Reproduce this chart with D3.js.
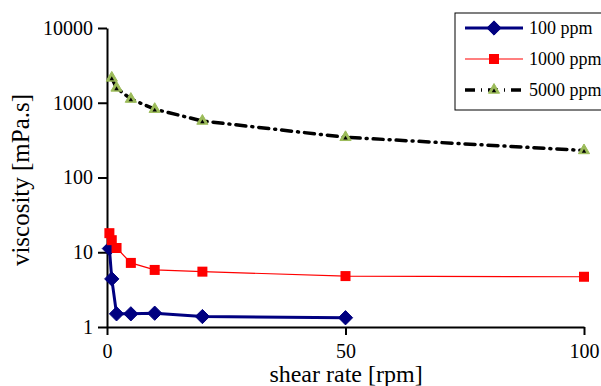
<!DOCTYPE html>
<html>
<head>
<meta charset="utf-8">
<script src="https://cdn.jsdelivr.net/npm/d3@7"></script>
<style>
  body { margin: 0; background: #fff; }
  svg { display: block; }
</style>
</head>
<body>
<div id="chart"></div>
<script>
const shearRate = [0.5, 1, 2, 5, 10, 20, 50, 100];
const ppm100 = [11.2, 4.4, 1.5, 1.5, 1.53, 1.38, 1.33];
const ppm1000 = [18, 14.5, 11.4, 7.2, 5.8, 5.5, 4.8, 4.7];
const ppm5000 = [2150, 1580, 1120, 820, 570, 345, 230];
const ppm5000X = [1, 2, 5, 10, 20, 50, 100];
const seriesNames = ["100 ppm", "1000 ppm", "5000 ppm"];
const yTicks = [1, 10, 100, 1000, 10000];
const xTicks = [0, 50, 100];

const FONT = "Liberation Serif";
const width = 601, height = 386;
const margin = { top: 28, right: 17, bottom: 59, left: 107 };
const w = width - margin.left - margin.right;
const h = height - margin.top - margin.bottom;

const svg = d3.select("#chart").append("svg")
  .attr("width", width)
  .attr("height", height)
  .attr("font-family", FONT);
const g = svg.append("g")
  .attr("transform", "translate(" + margin.left + "," + margin.top + ")");

const x = d3.scaleLinear().domain([0, 100]).range([0, w]);
const y = d3.scaleLog().domain([1, 10000]).range([h, 0]);

// axes
const xAxis = g.append("g")
  .attr("transform", "translate(0," + h + ")")
  .call(d3.axisBottom(x).tickValues(xTicks).tickSize(8).tickPadding(9).tickSizeOuter(0));
const yAxis = g.append("g")
  .call(d3.axisLeft(y).tickValues(yTicks).tickFormat(d3.format("d")).tickSize(9).tickPadding(5).tickSizeOuter(0));
[xAxis, yAxis].forEach(a => {
  a.attr("font-family", FONT).attr("font-size", 20);
  a.selectAll("path, line").attr("stroke", "#000").attr("stroke-width", 2);
  a.selectAll("text").attr("fill", "#000");
});

svg.append("text")
  .attr("x", 346).attr("y", 382)
  .attr("text-anchor", "middle")
  .attr("font-size", 24)
  .text("shear rate [rpm]");
svg.append("text")
  .attr("transform", "translate(29,180) rotate(-90)")
  .attr("text-anchor", "middle")
  .attr("font-size", 25)
  .text("viscosity [mPa.s]");

const series = [
  { name: seriesNames[0], xs: shearRate.slice(0, ppm100.length), vs: ppm100 },
  { name: seriesNames[1], xs: shearRate, vs: ppm1000 },
  { name: seriesNames[2], xs: ppm5000X, vs: ppm5000 }
];
const styles = [
  { stroke: "#000080", width: 3, dash: null },
  { stroke: "#ff0000", width: 1.2, dash: null },
  { stroke: "#000", width: 3.5, dash: "10,6,1,6" }
];

const line = d3.line().x(d => x(d[0])).y(d => y(d[1]));

function marker(sel, i) {
  if (i === 0) {
    sel.append("path").attr("d", d3.symbol(d3.symbolDiamond2, 130)())
      .attr("fill", "#000080").attr("stroke", "#000080");
  } else if (i === 1) {
    sel.append("rect").attr("x", -5).attr("y", -5).attr("width", 10).attr("height", 10)
      .attr("fill", "#ff0000");
  } else {
    sel.append("path").attr("d", d3.symbol(d3.symbolTriangle2, 90)())
      .attr("fill", "#9bbb59").attr("stroke", "#9bbb59").attr("stroke-width", 1);
    sel.append("path").attr("d", d3.symbol(d3.symbolTriangle2, 14)())
      .attr("transform", "translate(0,1)")
      .attr("fill", "#000");
  }
}

series.forEach((s, i) => {
  const pts = s.xs.map((xv, k) => [xv, s.vs[k]]);
  const p = g.append("path").datum(pts)
    .attr("d", line)
    .attr("fill", "none")
    .attr("stroke", styles[i].stroke)
    .attr("stroke-width", styles[i].width)
    .attr("stroke-linecap", "round");
  if (styles[i].dash) p.attr("stroke-dasharray", styles[i].dash);
  g.selectAll(".m" + i).data(pts).enter().append("g")
    .attr("transform", d => "translate(" + x(d[0]) + "," + y(d[1]) + ")")
    .each(function() { marker(d3.select(this), i); });
});

// legend
const legend = svg.append("g").attr("transform", "translate(455,13)");
legend.append("rect").attr("x", 0).attr("y", 0).attr("width", 160).attr("height", 97)
  .attr("fill", "#fff").attr("stroke", "#000").attr("stroke-width", 1);
series.forEach((s, i) => {
  const ly = 15 + i * 31;
  const l = legend.append("line").attr("x1", 10).attr("x2", 68).attr("y1", ly).attr("y2", ly)
    .attr("stroke", styles[i].stroke).attr("stroke-width", styles[i].width);
  if (styles[i].dash) l.attr("stroke-dasharray", styles[i].dash);
  legend.append("g").attr("transform", "translate(39," + ly + ")").call(sel => marker(sel, i));
  legend.append("text").attr("x", 74).attr("y", ly + 6)
    .attr("font-size", 18).text(s.name);
});
</script>
</body>
</html>
